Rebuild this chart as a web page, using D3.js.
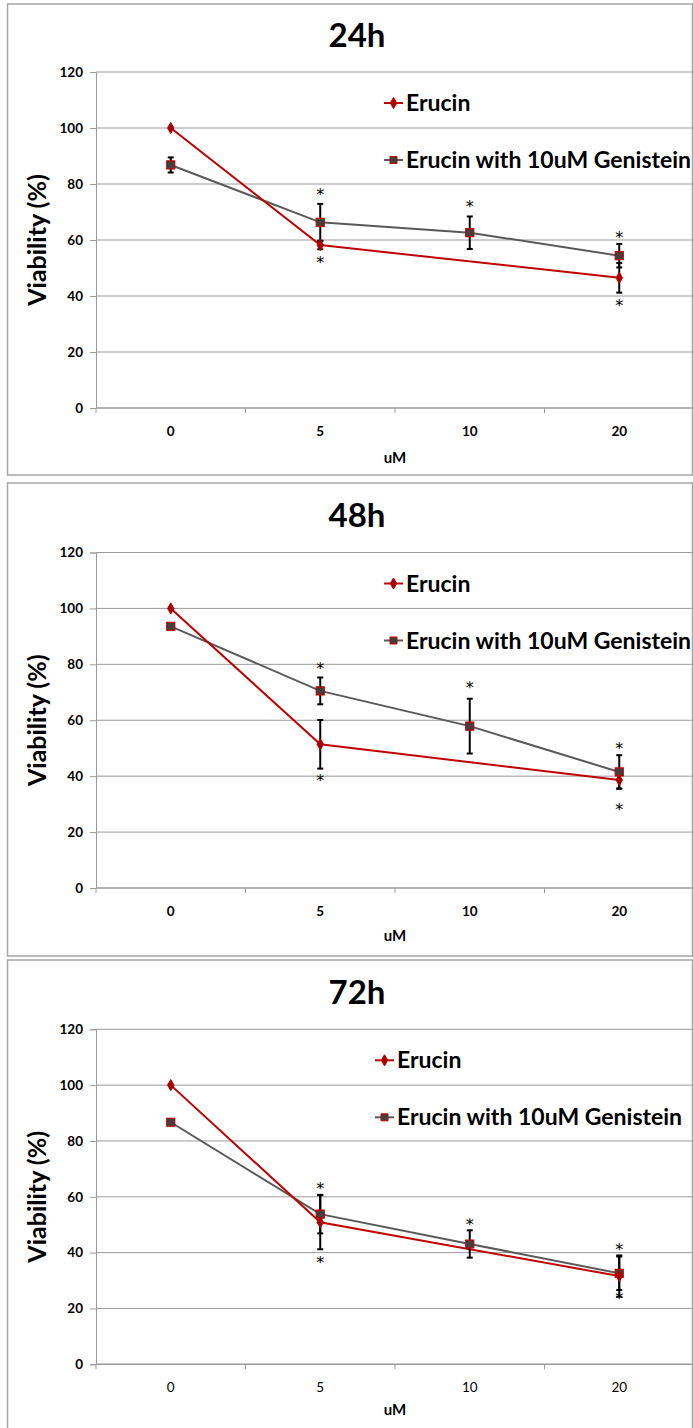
<!DOCTYPE html>
<html>
<head>
<meta charset="utf-8">
<script src="https://cdn.jsdelivr.net/npm/d3@7"></script>
<style>
  body { margin: 0; background: #fff; }
  text { font-family: Lato, "Open Sans", sans-serif; }
</style>
</head>
<body>
<div id="chart"></div>
<script>
// Data
var doses = ["0", "5", "10", "20"];
var titles = ["24h", "48h", "72h"];
var yTicks = [0, 20, 40, 60, 80, 100, 120];
var seriesNames = ["Erucin", "Erucin with 10uM Genistein"];

// 24h
var erucin24 = [100, 58.2, null, 46.5];
var erucinErr24 = [0, 1.5, null, 5.3];
var geni24 = [86.8, 66.3, 62.6, 54.4];
var geniErr24 = [2.7, 6.6, 5.8, 4.2];
var stars24 = [[1, 77.6], [1, 53.1], [2, 73.1], [3, 62.0], [3, 38.0]];

// 48h
var erucin48 = [100, 51.4, null, 38.6];
var erucinErr48 = [0, 8.7, null, 3.0];
var geni48 = [93.6, 70.5, 57.9, 41.5];
var geniErr48 = [1.0, 4.8, 9.8, 6.0];
var stars48 = [[1, 79.6], [1, 39.7], [2, 73.1], [3, 51.1], [3, 29.3]];

// 72h
var erucin72 = [100, 50.9, null, 31.6];
var erucinErr72 = [0, 9.7, null, 7.4];
var geni72 = [86.7, 53.8, 43.1, 32.6];
var geniErr72 = [1.0, 6.9, 4.9, 6.0];
var stars72 = [[1, 64.3], [1, 37.7], [2, 51.5], [3, 42.2], [3, 24.8]];

var panels = [
  { title: titles[0], eru: erucin24, eruErr: erucinErr24, gen: geni24, genErr: geniErr24, stars: stars24,
    frameTop: 4, frameBottom: 475, top: 72, bottom: 408, legX: 384, uMdy: 55, boldTicks: true },
  { title: titles[1], eru: erucin48, eruErr: erucinErr48, gen: geni48, genErr: geniErr48, stars: stars48,
    frameTop: 483, frameBottom: 956, top: 552.5, bottom: 888, legX: 384, uMdy: 53, boldTicks: true },
  { title: titles[2], eru: erucin72, eruErr: erucinErr72, gen: geni72, genErr: geniErr72, stars: stars72,
    frameTop: 960, frameBottom: 1440, top: 1029.3, bottom: 1364.3, legX: 375, uMdy: 51, boldTicks: false }
];

var W = 693, H = 1428;
var left = 96, right = 694;
var red = "#c00000", grey = "#595959";

var svg = d3.select("#chart").append("svg")
  .attr("width", W).attr("height", H);

var x = d3.scaleBand().domain(doses).range([left, right]);

panels.forEach(function (p) {
  var g = svg.append("g");
  var y = d3.scaleLinear().domain([0, 120]).range([p.bottom, p.top]);

  // frame
  g.append("rect")
    .attr("x", 7.5).attr("y", p.frameTop)
    .attr("width", 685).attr("height", p.frameBottom - p.frameTop)
    .attr("fill", "#fff").attr("stroke", "#a6a6a6").attr("stroke-width", 1.5);

  // title
  g.append("text")
    .attr("x", 357).attr("y", p.top - 25.5)
    .attr("text-anchor", "middle")
    .style("font-size", "33px").style("font-weight", "bold")
    .text(p.title);

  // gridlines
  g.selectAll(".grid").data(yTicks.slice(1)).enter().append("line")
    .attr("x1", left).attr("x2", 692)
    .attr("y1", function (d) { return y(d); })
    .attr("y2", function (d) { return y(d); })
    .attr("stroke", "#9a9a9a").attr("stroke-width", 1);

  // y axis
  var yAxis = g.append("g")
    .attr("transform", "translate(" + left + ",0)")
    .call(d3.axisLeft(y).tickValues(yTicks).tickSize(6).tickPadding(7));
  yAxis.select(".domain").attr("stroke", "#9a9a9a");
  yAxis.selectAll(".tick line").attr("stroke", "#9a9a9a");
  yAxis.selectAll(".tick text")
    .style("font-size", "13.5px").style("font-weight", "bold").attr("fill", "#000");

  // x axis: ticks between categories
  var bounds = [left].concat(doses.map(function (d) { return x(d) + x.bandwidth(); }));
  g.append("line")
    .attr("x1", left).attr("x2", 692)
    .attr("y1", p.bottom).attr("y2", p.bottom)
    .attr("stroke", "#9a9a9a").attr("stroke-width", 1.5);
  g.selectAll(".xt").data(bounds).enter().append("line")
    .attr("x1", function (d) { return d; }).attr("x2", function (d) { return d; })
    .attr("y1", p.bottom).attr("y2", p.bottom + 5)
    .attr("stroke", "#9a9a9a");
  g.selectAll(".xl").data(doses).enter().append("text")
    .attr("x", function (d) { return x(d) + x.bandwidth() / 2; })
    .attr("y", p.bottom + 28)
    .attr("text-anchor", "middle")
    .style("font-size", "13.5px")
    .style("font-weight", p.boldTicks ? "bold" : "normal")
    .text(function (d) { return d; });

  g.append("text")
    .attr("x", 395).attr("y", p.bottom + p.uMdy)
    .attr("text-anchor", "middle")
    .style("font-size", "15px").style("font-weight", "bold")
    .text("uM");

  g.append("text")
    .attr("transform", "translate(46," + (p.top + p.bottom) / 2 + ") rotate(-90)")
    .attr("text-anchor", "middle")
    .style("font-size", "25px").style("font-weight", "bold")
    .text("Viability (%)");

  var cx = function (i) { return x(doses[i]) + x.bandwidth() / 2; };

  // lines (Erucin gap at 10 connected)
  var eruPts = p.eru.map(function (v, i) { return { i: i, v: v }; })
    .filter(function (d) { return d.v !== null; });
  var genPts = p.gen.map(function (v, i) { return { i: i, v: v }; });
  var line = d3.line()
    .x(function (d) { return cx(d.i); })
    .y(function (d) { return y(d.v); });

  g.append("path").datum(genPts).attr("d", line)
    .attr("fill", "none").attr("stroke", grey).attr("stroke-width", 2);
  g.append("path").datum(eruPts).attr("d", line)
    .attr("fill", "none").attr("stroke", red).attr("stroke-width", 2);

  // error bars
  function errBars(vals, errs) {
    vals.forEach(function (v, i) {
      if (v === null || !errs[i]) return;
      var xx = cx(i), y1 = y(v + errs[i]), y2 = y(v - errs[i]);
      g.append("line").attr("x1", xx).attr("x2", xx).attr("y1", y1).attr("y2", y2)
        .attr("stroke", "#000").attr("stroke-width", 2);
      [y1, y2].forEach(function (yy) {
        g.append("line").attr("x1", xx - 3).attr("x2", xx + 3).attr("y1", yy).attr("y2", yy)
          .attr("stroke", "#000").attr("stroke-width", 2);
      });
    });
  }
  errBars(p.gen, p.genErr);
  errBars(p.eru, p.eruErr);

  // markers
  var sq = d3.symbol().type(d3.symbolSquare).size(64);
  var dia = d3.symbol().type(d3.symbolDiamond).size(36);
  g.selectAll(".gm").data(genPts).enter().append("path")
    .attr("d", sq)
    .attr("transform", function (d) { return "translate(" + cx(d.i) + "," + y(d.v) + ")"; })
    .attr("fill", "#404040").attr("stroke", red).attr("stroke-width", 1.2);
  g.selectAll(".em").data(eruPts).enter().append("path")
    .attr("d", dia)
    .attr("transform", function (d) { return "translate(" + cx(d.i) + "," + y(d.v) + ")"; })
    .attr("fill", "#a00000").attr("stroke", red).attr("stroke-width", 1);

  // significance asterisks
  g.selectAll(".st").data(p.stars).enter().append("text")
    .attr("x", function (d) { return cx(d[0]); })
    .attr("y", function (d) { return y(d[1]) + 9; })
    .attr("text-anchor", "middle")
    .style("font-family", "'DejaVu Sans', sans-serif")
    .style("font-size", "16px").attr("fill", "#000")
    .text("*");

  // legend
  var legY = [p.top + 31, p.top + 88];
  [0, 1].forEach(function (k) {
    var ly = legY[k];
    g.append("line").attr("x1", p.legX).attr("x2", p.legX + 19)
      .attr("y1", ly).attr("y2", ly)
      .attr("stroke", k === 0 ? red : grey).attr("stroke-width", 2);
    g.append("path")
      .attr("d", k === 0 ? dia : d3.symbol().type(d3.symbolSquare).size(49))
      .attr("transform", "translate(" + (p.legX + 9.5) + "," + ly + ")")
      .attr("fill", k === 0 ? "#a00000" : "#404040")
      .attr("stroke", red).attr("stroke-width", 1);
    g.append("text")
      .attr("x", p.legX + 22).attr("y", ly + 8)
      .style("font-size", "23px").style("font-weight", "bold")
      .text(seriesNames[k]);
  });
});
</script>
</body>
</html>
